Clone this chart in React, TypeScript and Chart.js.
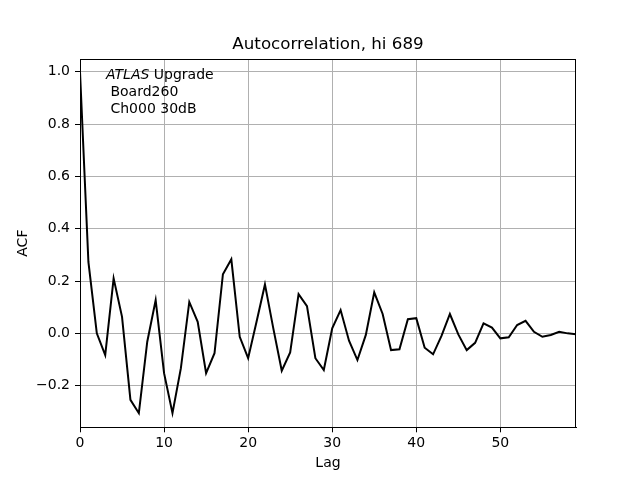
import React, { useEffect, useRef } from 'react';
import { Chart, registerables } from 'chart.js';

Chart.register(...registerables);

// ---- data ----
const acf: number[] = [
  1.0, 0.273, 0.0, -0.083, 0.21, 0.063, -0.254, -0.305, -0.032, 0.127,
  -0.152, -0.305, -0.133, 0.12, 0.044, -0.152, -0.076, 0.226, 0.283, -0.013,
  -0.095, 0.044, 0.187, 0.018, -0.143, -0.073, 0.15, 0.104, -0.095, -0.14,
  0.019, 0.089, -0.028, -0.102, -0.006, 0.157, 0.074, -0.064, -0.061, 0.054,
  0.058, -0.055, -0.08, -0.01, 0.074, -0.004, -0.064, -0.036, 0.038, 0.022,
  -0.019, -0.015, 0.032, 0.048, 0.006, -0.013, -0.006, 0.006, 0.0, -0.003,
];
const lags: number[] = acf.map((_, i) => i);
const xRange = [0, 59];
const yRange = [-0.359, 1.0485];
const xStep = 10;
const yStep = 0.2;
const chartTitle = 'Autocorrelation, hi 689';
const xTitle = 'Lag';
const yTitle = 'ACF';
const noteItalic = 'ATLAS';
const noteRest = ' Upgrade';
const noteLines = [' Board260', ' Ch000 30dB'];

const FONT = "'DejaVu Sans', sans-serif";
const SMALL = 14;

const decorPlugin = {
  id: 'decor',
  afterDatasetsDraw(chart: any) {
    const { ctx, chartArea } = chart;
    ctx.save();
    // frame
    ctx.strokeStyle = '#000';
    ctx.lineWidth = 1;
    ctx.strokeRect(
      Math.round(chartArea.left) + 0.5,
      Math.round(chartArea.top) + 0.5,
      Math.round(chartArea.right - chartArea.left) - 1,
      Math.round(chartArea.bottom - chartArea.top)
    );
    // title
    ctx.fillStyle = '#000';
    ctx.font = `16.7px ${FONT}`;
    ctx.textAlign = 'center';
    ctx.textBaseline = 'alphabetic';
    ctx.fillText(chartTitle, (chartArea.left + chartArea.right) / 2, chartArea.top - 10.5);
    // annotation
    const x0 = chartArea.left + 26;
    const b0 = chartArea.top + 19.5;
    ctx.textAlign = 'left';
    ctx.font = `italic ${SMALL}px ${FONT}`;
    ctx.fillText(noteItalic, x0, b0);
    const w = ctx.measureText(noteItalic).width;
    ctx.font = `${SMALL}px ${FONT}`;
    ctx.fillText(noteRest, x0 + w, b0);
    noteLines.forEach((t, i) => ctx.fillText(t, x0, b0 + 17.4 * (i + 1)));
    ctx.restore();
  },
};

const fmt = (v: number) => {
  const s = (Math.abs(v) < 1e-9 ? 0 : v).toFixed(1);
  return s.replace('-', '\u2212');
};

export default function App() {
  const ref = useRef<HTMLCanvasElement>(null);
  useEffect(() => {
    if (!ref.current) return;
    Chart.defaults.font.family = FONT;
    const chart = new Chart(ref.current, {
      type: 'line',
      data: {
        datasets: [
          {
            data: lags.map((l, i) => ({ x: l, y: acf[i] })),
            borderColor: '#000',
            borderWidth: 2,
            pointRadius: 0,
            tension: 0,
            fill: false,
          },
        ],
      },
      options: {
        animation: false,
        responsive: false,
        layout: { padding: { top: 59, left: 0, right: 64, bottom: 0 } },
        plugins: { legend: { display: false }, tooltip: { enabled: false } },
        scales: {
          x: {
            type: 'linear',
            min: xRange[0],
            max: xRange[1],
            afterFit: (s: any) => { s.height = 52.7; },
            ticks: {
              stepSize: xStep,
              includeBounds: false,
              color: '#000',
              font: { size: SMALL, family: FONT },
              padding: 3,
              maxRotation: 0,
              callback: (v: any) => String(Math.round(Number(v))),
            },
            grid: { color: '#b0b0b0', tickColor: '#000', tickLength: 5, lineWidth: 1 },
            border: { color: '#000', width: 1 },
            title: { display: true, text: xTitle, color: '#000', font: { size: SMALL, family: FONT }, padding: { top: 0, bottom: 8 } },
          },
          y: {
            type: 'linear',
            min: yRange[0],
            max: yRange[1],
            afterFit: (s: any) => { s.width = 80; },
            ticks: {
              stepSize: yStep,
              includeBounds: false,
              color: '#000',
              font: { size: SMALL, family: FONT },
              padding: 5,
              callback: (v: any) => fmt(Number(v)),
            },
            grid: { color: '#b0b0b0', tickColor: '#000', tickLength: 5, lineWidth: 1 },
            border: { color: '#000', width: 1 },
            title: { display: true, text: yTitle, color: '#000', font: { size: SMALL, family: FONT }, padding: { top: 15, bottom: 0 } },
          },
        },
      },
      plugins: [decorPlugin],
    });
    return () => chart.destroy();
  }, []);
  return (
    <div style={{ position: 'fixed', left: 0, top: 0, width: 640, height: 480, background: '#fff' }}>
      <canvas ref={ref} width={640} height={480} style={{ width: 640, height: 480, display: 'block' }} />
    </div>
  );
}
